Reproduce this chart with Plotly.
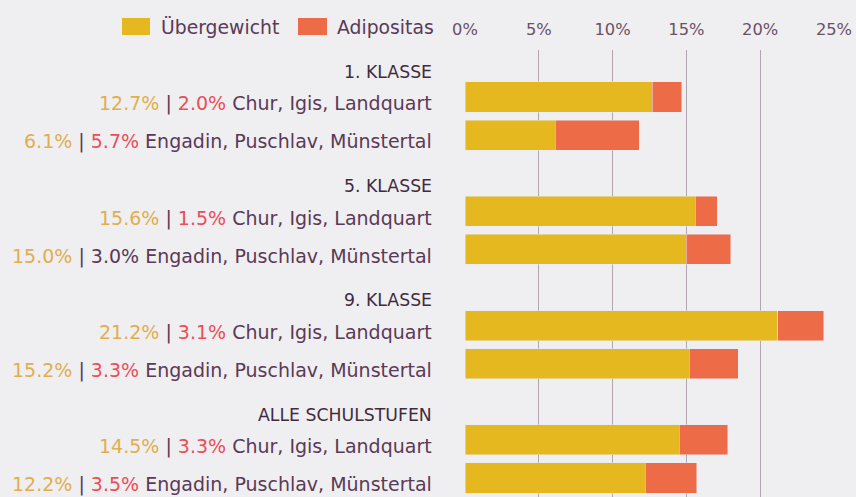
import plotly.graph_objects as go

# ---- data ----
groups = ["1. KLASSE", "5. KLASSE", "9. KLASSE", "ALLE SCHULSTUFEN"]
regions = ["Chur, Igis, Landquart", "Engadin, Puschlav, Münstertal"]
uebergewicht = [12.7, 6.1, 15.6, 15.0, 21.2, 15.2, 14.5, 12.2]
adipositas = [2.0, 5.7, 1.5, 3.0, 3.1, 3.3, 3.3, 3.5]
# whether the adipositas figure is printed in red in the label
adip_red = [True, True, True, False, True, True, True, True]
tick_vals = [0, 5, 10, 15, 20, 25]
tick_text = ["0%", "5%", "10%", "15%", "20%", "25%"]

# ---- style ----
W, H = 856, 497
ML, MR, MT, MB = 465, 22, 50, 0
BG = "#efeef1"
YEL = "#e4b81e"
ORA = "#ee6b47"
TXT = "#5a3a56"
HEAD = "#3f2b3d"
TYEL = "#e0ae4e"
TRED = "#e84f5a"
FONT = "DejaVu Sans"

# slot positions: header slot then two bar slots per group
bar_pos = []
head_pos = []
for g in range(len(groups)):
    head_pos.append(3 * g)
    bar_pos.extend([3 * g + 1, 3 * g + 2])

fig = go.Figure()
fig.add_trace(go.Bar(y=bar_pos, x=uebergewicht, orientation="h", marker_color=YEL,
                     width=0.79, name="Übergewicht", showlegend=False))
fig.add_trace(go.Bar(y=bar_pos, x=adipositas, orientation="h", marker_color=ORA,
                     width=0.79, name="Adipositas", showlegend=False))

pw = W - ML - MR
ph = H - MT - MB
def px2paper(px):
    return (px - ML) / pw
def py2paper(py):
    return 1 + (MT - py) / ph

lab_x = px2paper(434)
ann = []
for g, name in enumerate(groups):
    ann.append(dict(x=lab_x, y=head_pos[g] + 0.34, xref="paper", yref="y", text=name,
                    xanchor="right", yanchor="middle", showarrow=False,
                    font=dict(family=FONT, size=17.3, color=HEAD)))
for i, p in enumerate(bar_pos):
    reg = regions[i % 2]
    ac = TRED if adip_red[i] else TXT
    txt = (f"<span style='color:{TYEL}'>{uebergewicht[i]:.1f}%</span> | "
           f"<span style='color:{ac}'>{adipositas[i]:.1f}%</span> {reg}")
    ann.append(dict(x=lab_x, y=p + 0.18, xref="paper", yref="y", text=txt,
                    xanchor="right", yanchor="middle", showarrow=False,
                    font=dict(family=FONT, size=19, color=TXT)))

# custom legend
shapes = []
leg_items = [("Übergewicht", YEL, 122, 150, 159), ("Adipositas", ORA, 298, 327, 335)]
for label, col, x0, x1, tx in leg_items:
    shapes.append(dict(type="rect", xref="paper", yref="paper",
                       x0=px2paper(x0), x1=px2paper(x1),
                       y0=py2paper(35), y1=py2paper(18),
                       fillcolor=col, line=dict(width=0)))
    ann.append(dict(x=px2paper(tx), y=py2paper(27), xref="paper", yref="paper",
                    text=label, xanchor="left", yanchor="middle", showarrow=False,
                    font=dict(family=FONT, size=18.8, color=TXT)))

fig.update_layout(
    width=W, height=H, barmode="stack",
    margin=dict(l=ML, r=MR, t=MT, b=MB),
    paper_bgcolor=BG, plot_bgcolor=BG,
    annotations=ann, shapes=shapes,
    xaxis=dict(range=[0, 25], side="top", tickvals=tick_vals, ticktext=tick_text,
               showgrid=True, gridcolor="#b3a4b1", gridwidth=1, zeroline=False,
               showline=False, ticks="", ticklabelstandoff=11,
               tickfont=dict(family=FONT, size=16.3, color="#6a5266")),
    yaxis=dict(range=[11.5, -0.234], showticklabels=False, showgrid=False,
               zeroline=False, showline=False),
)
fig.write_html("out.html", config={"displayModeBar": False},
               post_script="document.body.style.margin='0';document.body.style.background='%s';" % BG)
